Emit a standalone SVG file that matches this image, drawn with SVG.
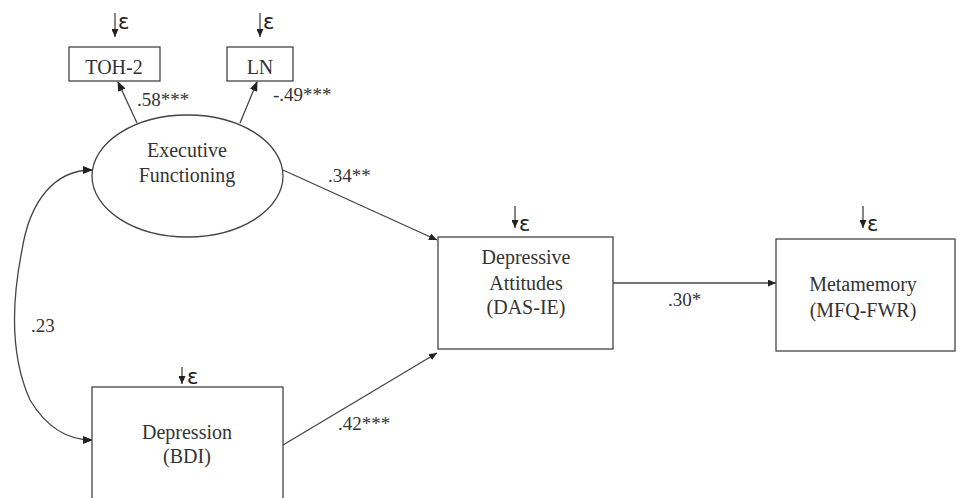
<svg xmlns="http://www.w3.org/2000/svg" width="957" height="498" viewBox="0 0 957 498">
<defs>
<marker id="ah" markerWidth="10" markerHeight="8" refX="9" refY="4" orient="auto" markerUnits="userSpaceOnUse">
<path d="M0,0 L10,4 L0,8 Z" fill="#222"/>
</marker>
<marker id="ahs" markerWidth="8" markerHeight="7" refX="8" refY="3.5" orient="auto" markerUnits="userSpaceOnUse">
<path d="M0,0 L8,3.5 L0,7 Z" fill="#222"/>
</marker>
<style>
.box{fill:#fff;stroke:#444;stroke-width:1.3}
.t{font-size:20px;fill:#333;text-anchor:middle}
.l{font-size:19px;fill:#333}
.e{font-size:21px;fill:#222}
.c{fill:none;stroke:#444;stroke-width:1.3}
</style>
</defs>
<rect width="957" height="498" fill="#fff"/>
<g id="connectors">
<line class="c" x1="137" y1="123" x2="118" y2="82" marker-end="url(#ah)"/>
<line class="c" x1="240" y1="123" x2="257" y2="82" marker-end="url(#ah)"/>
<line class="c" x1="283" y1="170" x2="437" y2="240" marker-end="url(#ahs)"/>
<line class="c" x1="283" y1="445" x2="437" y2="353" marker-end="url(#ahs)"/>
<line class="c" x1="613" y1="283" x2="776" y2="283" marker-end="url(#ahs)"/>
<path class="c" d="M 22 250 C 30 200, 55 170, 92 170" marker-end="url(#ah)"/>
<path class="c" d="M 22 250 C 10 310, 12 360, 30 400 C 45 425, 65 440, 92 440" marker-end="url(#ah)"/>
<line class="c" x1="115" y1="13" x2="115" y2="37" marker-end="url(#ahs)"/>
<line class="c" x1="260" y1="13" x2="260" y2="37" marker-end="url(#ahs)"/>
<line class="c" x1="515" y1="206" x2="515" y2="228" marker-end="url(#ahs)"/>
<line class="c" x1="863" y1="206" x2="863" y2="228" marker-end="url(#ahs)"/>
<line class="c" x1="182" y1="367" x2="182" y2="384" marker-end="url(#ahs)"/>
<g font-family="'Times New Roman', 'Liberation Serif', 'DejaVu Serif', serif">
<text class="l" x="137" y="106">.58***</text>
<text class="l" x="273" y="101">-.49***</text>
<text class="l" x="328" y="182">.34**</text>
<text class="l" x="31" y="332">.23</text>
<text class="l" x="338" y="430">.42***</text>
<text class="l" x="668" y="306">.30*</text>
</g>
<g font-family="'DejaVu Sans', sans-serif">
<text class="e" x="118" y="29">ε</text>
<text class="e" x="263" y="29">ε</text>
<text class="e" x="519" y="231">ε</text>
<text class="e" x="867" y="231">ε</text>
<text class="e" x="187" y="384">ε</text>
</g>
</g>
<g id="toh2" font-family="'Times New Roman', 'Liberation Serif', 'DejaVu Serif', serif">
<rect class="box" x="69" y="47" width="91" height="34"/>
<text class="t" x="114" y="74">TOH-2</text>
</g>
<g id="ln" font-family="'Times New Roman', 'Liberation Serif', 'DejaVu Serif', serif">
<rect class="box" x="227" y="47" width="66" height="34"/>
<text class="t" x="260" y="74">LN</text>
</g>
<g id="executive" font-family="'Times New Roman', 'Liberation Serif', 'DejaVu Serif', serif">
<ellipse class="box" cx="187.5" cy="176" rx="95.5" ry="61"/>
<text class="t" x="187" y="157">Executive</text>
<text class="t" x="187" y="182">Functioning</text>
</g>
<g id="das" font-family="'Times New Roman', 'Liberation Serif', 'DejaVu Serif', serif">
<rect class="box" x="438" y="237" width="175" height="112"/>
<text class="t" x="526" y="264">Depressive</text>
<text class="t" x="526" y="290">Attitudes</text>
<text class="t" x="526" y="314">(DAS-IE)</text>
</g>
<g id="meta" font-family="'Times New Roman', 'Liberation Serif', 'DejaVu Serif', serif">
<rect class="box" x="776" y="239" width="179" height="112"/>
<text class="t" x="863" y="291">Metamemory</text>
<text class="t" x="863" y="317">(MFQ-FWR)</text>
</g>
<g id="bdi" font-family="'Times New Roman', 'Liberation Serif', 'DejaVu Serif', serif">
<rect class="box" x="92" y="387" width="191" height="120"/>
<text class="t" x="187" y="439">Depression</text>
<text class="t" x="187" y="463">(BDI)</text>
</g>
</svg>
